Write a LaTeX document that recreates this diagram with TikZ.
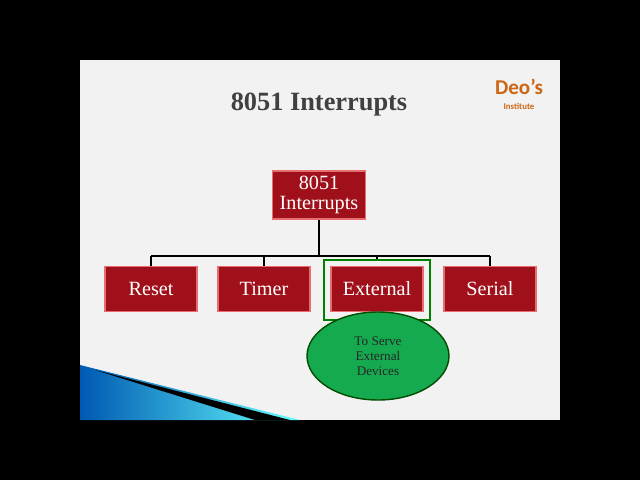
\documentclass[tikz,border=0pt]{standalone}
\usepackage{fontspec}
\setmainfont{Liberation Serif}
\newfontfamily\logofont{Carlito}
\usetikzlibrary{positioning,shapes.geometric}

\definecolor{boxred}{RGB}{160,16,26}
\definecolor{boxedge}{RGB}{230,110,110}
\definecolor{slidebg}{RGB}{242,242,242}
\definecolor{ovalgreen}{RGB}{22,170,80}
\definecolor{logoorange}{RGB}{204,102,20}

\newlength{\unitpx}
\setlength{\unitpx}{0.02cm}
\tikzset{
  intbox/.style={draw=boxedge, fill=boxred, text=white, line width=1pt,
    minimum width=92\unitpx, minimum height=45\unitpx, inner sep=1pt, font=\fontsize{11.5}{12}\selectfont},
  bus/.style={line width=1.3pt, black}
}

\begin{document}
\begin{tikzpicture}[x=0.02cm, y=-0.02cm]
\useasboundingbox (0,0) rectangle (640,480);
% Background and slide
\fill[black] (0,0) rectangle (640,480);
\fill[slidebg] (80,60) rectangle (560,420);
% Swoosh
\shade[left color=blue!50!cyan!70!black, right color=cyan!60!white]
  (80,365) -- (300,420) -- (80,420) -- cycle;
\fill[black] (95,370) -- (290,420) -- (255,420) -- cycle;

% Title and logo
\node[font=\bfseries\fontsize{15}{16}\selectfont, text=black!75] (title) at (319,105) {8051 Interrupts};
\node[font=\logofont\bfseries\fontsize{12}{13}\selectfont, text=logoorange] (logo) at (519,87) {Deo’s};
\node[font=\logofont\bfseries\fontsize{5}{6}\selectfont, text=logoorange] (inst) at (519,106) {Institute};

% Tree
\node[intbox, minimum width=93\unitpx, minimum height=48\unitpx, align=center,
  font=\fontsize{11.5}{11}\selectfont] (root) at (319,195) {8051\\Interrupts};
\node[intbox] (reset) at (151,289) {Reset};
\node[intbox] (timer) at (264,289) {Timer};
\node[intbox] (ext) at (377,289) {External};
\node[intbox] (serial) at (490,289) {Serial};
\node[draw=green!50!black, line width=1.2pt, minimum width=106\unitpx, minimum height=60\unitpx] (frame) at (377,290) {};

\coordinate (busl) at (151,256);
\coordinate (busr) at (490,256);
\draw[bus] (root.south) -- (root.south |- busl);
\draw[bus] (busl) -- (busr);
\foreach \n in {reset, timer, serial}
  \draw[bus] (\n.north |- busl) -- (\n.north);
\draw[bus] (frame.north |- busl) -- (frame.north);

% Note
\node[ellipse, draw=green!30!black, fill=ovalgreen, line width=0.8pt,
  minimum width=142\unitpx, minimum height=88\unitpx, align=center,
  font=\fontsize{7.5}{8.5}\selectfont, text=black!85] (note) at (378,356)
  {To Serve\\External\\Devices};
\end{tikzpicture}
\end{document}
